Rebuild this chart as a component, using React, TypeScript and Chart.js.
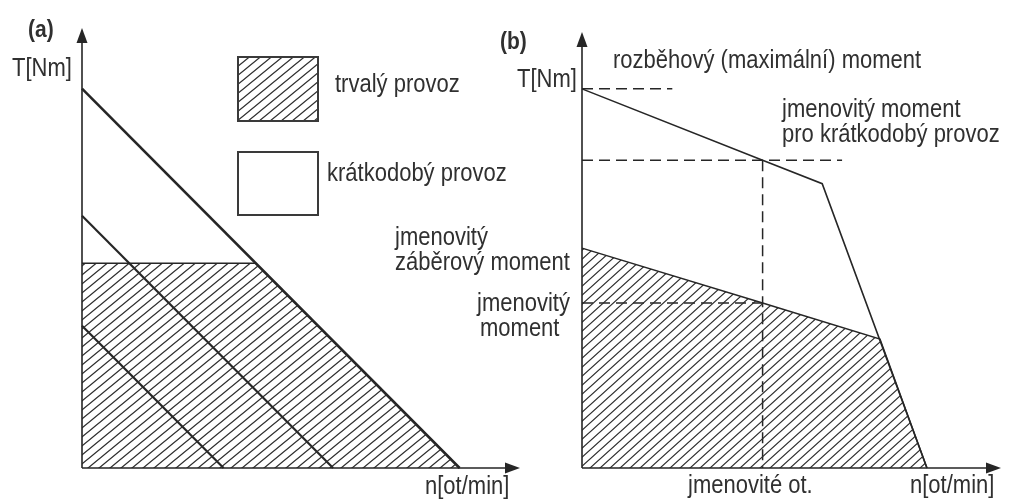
import { useEffect, useRef } from "react";
import { Chart, registerables } from "chart.js";

Chart.register(...registerables);

// ---- Panel (a): parallel torque limits, continuous-duty band ----
const speedOuter = [0, 100];
const torqueOuter = [100, 0];
const speedMiddle = [0, 66.5];
const torqueMiddle = [66.5, 0];
const speedInner = [0, 37.5];
const torqueInner = [37.5, 0];
const speedContinuous = [0, 46, 100];
const torqueContinuous = [54, 54, 0];

// ---- Panel (b): motor torque–speed characteristic ----
const speedShortTerm = [0, 50, 66.5, 95.5];
const torqueShortTerm = [100, 81.2, 75, 0];
const speedRated = [0, 50, 82.5, 95.5];
const torqueRated = [58, 43.5, 34, 0];
const ratedSpeed = 50;
const startTorque = 100;
const shortTermRatedTorque = 81.2;
const ratedTorque = 43.5;

const legendLabels = ["trvalý provoz", "krátkodobý provoz"];
const axisLabelT = "T[Nm]";
const axisLabelN = "n[ot/min]";

const INK = "#262626";
const TEXT_INK = "#303030";
const FONT = '22px "Liberation Sans", Arial, Helvetica, sans-serif';
const FONT_BOLD = 'bold 21px "Liberation Sans", Arial, Helvetica, sans-serif';
const TEXT_STRETCH = 1.13;

const pts = (xs: number[], ys: number[]) => xs.map((x, i) => ({ x, y: ys[i] }));

function makeHatch(w: number, h: number, color: string, lw: number) {
  const c = document.createElement("canvas");
  c.width = w;
  c.height = h;
  const g = c.getContext("2d")!;
  g.strokeStyle = color;
  g.lineWidth = lw;
  g.beginPath();
  for (const off of [-w, 0, w]) {
    g.moveTo(off - w, 2 * h);
    g.lineTo(off + 2 * w, -h);
  }
  g.stroke();
  return g.createPattern(c, "repeat")!;
}

type Label = { text: string; x: number; y: number; font?: string };

function decorPlugin(labels: Label[], extra?: (ctx: CanvasRenderingContext2D) => void) {
  return {
    id: "decor",
    afterDatasetsDraw(chart: any) {
      const { ctx, chartArea } = chart;
      const { right, top } = chartArea;
      const x0 = chart.scales.x.getPixelForValue(0);
      const y0 = chart.scales.y.getPixelForValue(0);
      ctx.save();
      // axes with arrow heads
      ctx.strokeStyle = INK;
      ctx.fillStyle = INK;
      ctx.lineWidth = 1.6;
      ctx.beginPath();
      ctx.moveTo(x0, y0);
      ctx.lineTo(x0, top + 12);
      ctx.moveTo(x0, y0);
      ctx.lineTo(right - 12, y0);
      ctx.stroke();
      ctx.beginPath();
      ctx.moveTo(x0, top);
      ctx.lineTo(x0 - 5.5, top + 15);
      ctx.lineTo(x0 + 5.5, top + 15);
      ctx.closePath();
      ctx.fill();
      ctx.beginPath();
      ctx.moveTo(right, y0);
      ctx.lineTo(right - 15, y0 - 5.5);
      ctx.lineTo(right - 15, y0 + 5.5);
      ctx.closePath();
      ctx.fill();
      if (extra) extra(ctx);
      ctx.textBaseline = "alphabetic";
      ctx.textAlign = "left";
      ctx.fillStyle = TEXT_INK;
      for (const l of labels) {
        ctx.save();
        ctx.font = l.font || FONT;
        ctx.translate(l.x, l.y);
        ctx.scale(1, TEXT_STRETCH);
        ctx.fillText(l.text, 0, 0);
        ctx.restore();
      }
      ctx.restore();
    },
  };
}

function lineSet(data: { x: number; y: number }[], width: number, extra: any = {}) {
  return {
    data,
    borderColor: INK,
    borderWidth: width,
    pointRadius: 0,
    fill: false,
    tension: 0,
    clip: false,
    ...extra,
  };
}

function baseOptions(padding: any, max: { x: number; y: number }) {
  return {
    responsive: false,
    animation: false as const,
    events: [],
    layout: { padding },
    plugins: { legend: { display: false }, tooltip: { enabled: false } },
    scales: {
      x: { type: "linear" as const, min: 0, max: max.x, display: false },
      y: { type: "linear" as const, min: 0, max: max.y, display: false },
    },
  };
}

export default function App() {
  const refA = useRef<HTMLCanvasElement>(null);
  const refB = useRef<HTMLCanvasElement>(null);

  useEffect(() => {
    const hatchA = makeHatch(11, 9, "#2e2e2e", 1.3);
    const hatchB = makeHatch(10, 9, "#2e2e2e", 1.2);

    const legendBoxes = (ctx: CanvasRenderingContext2D) => {
      ctx.lineWidth = 2;
      ctx.strokeStyle = "#3a3a3a";
      ctx.fillStyle = hatchA;
      ctx.fillRect(238, 57, 80, 64);
      ctx.strokeRect(238, 57, 80, 64);
      ctx.strokeRect(238, 152, 80, 63);
    };

    const chartA = new Chart(refA.current!, {
      type: "line",
      data: {
        datasets: [
          lineSet(pts(speedContinuous, torqueContinuous), 1.5, {
            fill: "origin",
            backgroundColor: hatchA,
          }),
          lineSet(pts(speedOuter, torqueOuter), 2.6),
          lineSet(pts(speedMiddle, torqueMiddle), 2.2),
          lineSet(pts(speedInner, torqueInner), 2.2),
        ],
      },
      options: baseOptions({ left: 82, top: 28, right: 20, bottom: 31 }, { x: 116, y: 116 }),
      plugins: [
        decorPlugin(
          [
            { text: "(a)", x: 28, y: 37, font: FONT_BOLD },
            { text: axisLabelT, x: 12, y: 76 },
            { text: legendLabels[0], x: 335, y: 92 },
            { text: legendLabels[1], x: 327, y: 181 },
            { text: axisLabelN, x: 425, y: 494 },
          ],
          legendBoxes
        ),
      ],
    } as any);

    const dash = { borderDash: [11, 6] };
    const ox = 380;
    const chartB = new Chart(refB.current!, {
      type: "line",
      data: {
        datasets: [
          lineSet(pts(speedRated, torqueRated), 1.5, {
            fill: "origin",
            backgroundColor: hatchB,
          }),
          lineSet(pts(speedShortTerm, torqueShortTerm), 1.6),
          lineSet(pts([0, 25], [startTorque, startTorque]), 1.5, dash),
          lineSet(pts([0, 72], [shortTermRatedTorque, shortTermRatedTorque]), 1.5, dash),
          lineSet(pts([ratedSpeed, ratedSpeed], [shortTermRatedTorque, 0]), 1.5, dash),
          lineSet(pts([0, ratedSpeed], [ratedTorque, ratedTorque]), 1.5, dash),
        ],
      },
      options: baseOptions({ left: 202, top: 32, right: 25, bottom: 31 }, { x: 116, y: 115 }),
      plugins: [
        decorPlugin([
          { text: "(b)", x: 500 - ox, y: 49, font: FONT_BOLD },
          { text: axisLabelT, x: 517 - ox, y: 87 },
          { text: "rozběhový (maximální) moment", x: 613 - ox, y: 68 },
          { text: "jmenovitý moment", x: 782 - ox, y: 117 },
          { text: "pro krátkodobý provoz", x: 782 - ox, y: 142 },
          { text: "jmenovitý", x: 395 - ox, y: 245 },
          { text: "záběrový moment", x: 395 - ox, y: 270 },
          { text: "jmenovitý", x: 477 - ox, y: 311 },
          { text: "moment", x: 480 - ox, y: 336 },
          { text: "jmenovité ot.", x: 688 - ox, y: 493 },
          { text: axisLabelN, x: 910 - ox, y: 493 },
        ]),
      ],
    } as any);

    return () => {
      chartA.destroy();
      chartB.destroy();
    };
  }, []);

  return (
    <div style={{ position: "fixed", left: 0, top: 0, width: 1026, height: 499, background: "#fff" }}>
      <canvas ref={refA} width={540} height={499} style={{ position: "absolute", left: 0, top: 0 }} />
      <canvas ref={refB} width={646} height={499} style={{ position: "absolute", left: 380, top: 0 }} />
    </div>
  );
}
